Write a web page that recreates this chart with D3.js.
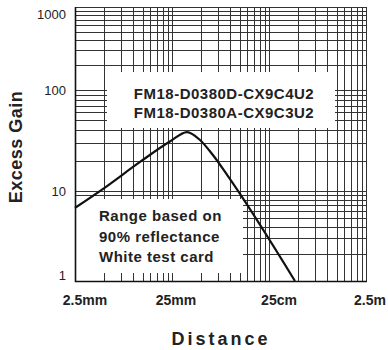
<!DOCTYPE html>
<meta charset="utf-8">
<style>
    body { margin: 0; background: #fff; }
    svg { display: block; font-family: "Liberation Sans", Arial, sans-serif; }
</style>
<svg width="388" height="350"></svg>
<script src="https://d3js.org/d3.v7.min.js"></script>
<script>
    // values (distance in mm)
    const xTicks = [2.5, 25, 250, 2500]
    const xTickLabels = ["2.5mm", "25mm", "25cm", "2.5m"]
    const yTicks = [1, 10, 100, 1000]
    const yTickLabels = ["1", "10", "100", "1000"]
    const distance = [2.5, 5.0, 11.7, 23.8, 35.7, 48.6, 66, 94, 463]
    const gain = [6.5, 10.7, 19.4, 30.9, 38.3, 32, 22.7, 14.1, 1]
    const modelLines = ["FM18-D0380D-CX9C4U2", "FM18-D0380A-CX9C3U2"]
    const noteLines = ["Range based on", "90% reflectance", "White test card"]

    var svg = d3.select("svg"),
        pL = 75, pR = 366, pT = 7, pB = 281;

    var x = d3.scaleLog().domain([2.5, 2500]).range([pL, pR]);
    // decades are not evenly spaced in the source drawing, so map log10(v) piecewise
    var yDec = d3.scaleLinear().domain(yTicks.map(Math.log10)).range([pB, 191, 90, pT]);
    var y = function (v) { return yDec(Math.log10(v)); };

    var xGrid = [], yGrid = [];
    xTicks.slice(0, -1).forEach(function (b) {
        for (var k = 1; k < 10; k++) xGrid.push(b * k);
    });
    xGrid.push(xTicks[xTicks.length - 1]);
    yTicks.slice(0, -1).forEach(function (b) {
        for (var k = 1; k < 10; k++) yGrid.push(b * k);
    });
    yGrid.push(yTicks[yTicks.length - 1]);

    var snap = function (v) { return Math.round(v) + 0.5; };

    var grid = svg.append("g").attr("stroke", "#333").attr("stroke-width", 1);
    grid.selectAll(".vx").data(xGrid).enter().append("line")
        .attr("x1", function (d) { return snap(x(d)); })
        .attr("x2", function (d) { return snap(x(d)); })
        .attr("y1", pT).attr("y2", pB);
    grid.selectAll(".hy").data(yGrid).enter().append("line")
        .attr("y1", function (d) { return snap(y(d)); })
        .attr("y2", function (d) { return snap(y(d)); })
        .attr("x1", pL).attr("x2", pR);

    // white label boxes cover the grid
    svg.append("rect").attr("x", 107).attr("y", 72).attr("width", 228).attr("height", 56).attr("fill", "#fff");
    svg.append("rect").attr("x", 76).attr("y", 199).attr("width", 167).attr("height", 81).attr("fill", "#fff");

    // short ticks along the bottom
    svg.append("g").attr("stroke", "#333")
        .selectAll("line").data(xGrid).enter().append("line")
        .attr("x1", function (d) { return snap(x(d)); })
        .attr("x2", function (d) { return snap(x(d)); })
        .attr("y1", pB - 8).attr("y2", pB);

    // frame
    svg.append("rect").attr("x", pL + 0.5).attr("y", pT + 0.5)
        .attr("width", pR - pL).attr("height", pB - pT)
        .attr("fill", "none").attr("stroke", "#333");
    svg.append("path")
        .attr("d", "M" + (pL + 0.5) + "," + pT + "V" + (pB + 0.5) + "H" + (pR + 1))
        .attr("fill", "none").attr("stroke", "#111").attr("stroke-width", 1.6);

    // curve
    var pts = distance.map(function (d, i) { return [d, gain[i]]; });
    svg.append("path")
        .datum(pts)
        .attr("fill", "none")
        .attr("stroke", "#111")
        .attr("stroke-width", 2.2)
        .attr("d", d3.line()
            .x(function (d) { return x(d[0]); })
            .y(function (d) { return y(d[1]); })
            .curve(d3.curveMonotoneX));

    // tick labels
    svg.selectAll(".xl").data(xTicks).enter().append("text")
        .attr("x", function (d, i) { return x(d) + (i % 2 === 0 ? 10 : 4); })
        .attr("y", 305)
        .attr("text-anchor", "middle")
        .attr("font-size", 14).attr("font-weight", "bold").attr("fill", "#222")
        .text(function (d, i) { return xTickLabels[i]; });
    svg.selectAll(".yl").data(yTicks).enter().append("text")
        .attr("x", 66)
        .attr("y", function (d) { return Math.min(Math.max(y(d), 14), 275); })
        .attr("dy", "0.35em")
        .attr("text-anchor", "end")
        .attr("font-size", 13).attr("fill", "#222")
        .text(function (d, i) { return yTickLabels[i]; });

    // labels inside the plot
    svg.selectAll(".ml").data(modelLines).enter().append("text")
        .attr("x", 224).attr("y", function (d, i) { return 99 + i * 19; })
        .attr("text-anchor", "middle")
        .attr("font-size", 15).attr("font-weight", "bold").attr("letter-spacing", 0.5).attr("fill", "#222")
        .text(function (d) { return d; });
    svg.selectAll(".nl").data(noteLines).enter().append("text")
        .attr("x", 99).attr("y", function (d, i) { return 221 + i * 20.5; })
        .attr("font-size", 15).attr("font-weight", "bold").attr("letter-spacing", 0.5).attr("fill", "#222")
        .text(function (d) { return d; });

    // axis titles
    svg.append("text")
        .attr("transform", "translate(22,147) rotate(-90)")
        .attr("text-anchor", "middle")
        .attr("font-size", 18).attr("font-weight", "bold").attr("letter-spacing", 0.5).attr("fill", "#222")
        .text("Excess Gain");
    svg.append("text")
        .attr("x", 221).attr("y", 345)
        .attr("text-anchor", "middle")
        .attr("font-size", 18).attr("font-weight", "bold").attr("letter-spacing", 3).attr("fill", "#222")
        .text("Distance");
</script>
